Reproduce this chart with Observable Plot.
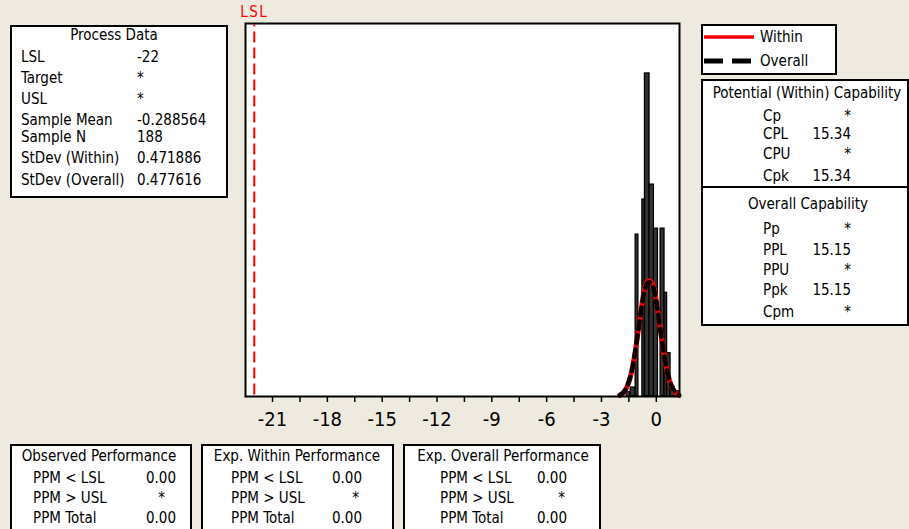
<!DOCTYPE html>
<html>
<head>
<meta charset="utf-8">
<script src="https://cdn.jsdelivr.net/npm/d3@7"></script>
<script src="https://cdn.jsdelivr.net/npm/@observablehq/plot@0.6"></script>
<style>
  html, body { margin: 0; padding: 0; background: #EEEAE0; }
  #page { position: relative; width: 909px; height: 529px; overflow: hidden; background: #EEEAE0;
          font-family: "DejaVu Sans Condensed", "DejaVu Sans", sans-serif; font-stretch: condensed; }
  #page svg { position: absolute; left: 0; top: 0; }
  .box { position: absolute; box-sizing: border-box; border: 2px solid #000; background: #fff; }
  .t { position: absolute; font-size: 15px; line-height: 18px; height: 18px; white-space: pre; color: #000; }
  .c { transform: translateX(-50%); }
  .r { transform: translateX(-100%); }
  .sep { position: absolute; height: 2px; background: #000; }
</style>
</head>
<body>
<div id="page"></div>
<script>
// ---------------- data ----------------
const lsl = -22;
const majorTicks = [-21, -18, -15, -12, -9, -6, -3, 0];
const minorTicks = [-19.5, -16.5, -13.5, -10.5, -7.5, -4.5, -1.5];

// histogram bins (start, end, count)
const binStart = [-1.62, -1.40, -1.13, -0.76, -0.62, -0.37, -0.13, 0.235, 0.45, 0.59, 0.78, 1.00];
const binEnd   = [-1.40, -1.13, -0.98, -0.62, -0.37, -0.13, 0.09, 0.45, 0.59, 0.78, 1.00, 1.22];
const binCount = [0.6, 1.2, 21.7, 26.4, 43.3, 28.4, 22.5, 22.5, 13.9, 5.8, 1.3, 0.7];

// fitted curves
const curveX       = [-2.0, -1.8, -1.6, -1.4, -1.2, -1.0, -0.8, -0.6, -0.37, -0.15, 0.05, 0.25, 0.45, 0.65, 0.85, 1.05, 1.25];
const withinCurveY = [0.15, 0.5, 1.3, 2.8, 5.3, 8.6, 12.1, 14.8, 15.5, 14.7, 12.0, 8.5, 5.3, 2.8, 1.3, 0.5, 0.15];
const overallCurveY= [0.17, 0.55, 1.35, 2.85, 5.3, 8.6, 12.0, 14.6, 15.3, 14.5, 11.9, 8.5, 5.3, 2.85, 1.35, 0.55, 0.17];

// tables
const processTitle  = "Process Data";
const processLabels = ["LSL", "Target", "USL", "Sample Mean", "Sample N", "StDev (Within)", "StDev (Overall)"];
const processValues = ["-22", "*", "*", "-0.288564", "188", "0.471886", "0.477616"];

const legendLabels = ["Within", "Overall"];

const withinTitle  = "Potential (Within) Capability";
const withinLabels = ["Cp", "CPL", "CPU", "Cpk"];
const withinValues = ["*", "15.34", "*", "15.34"];
const overallTitle  = "Overall Capability";
const overallLabels = ["Pp", "PPL", "PPU", "Ppk", "Cpm"];
const overallValues = ["*", "15.15", "*", "15.15", "*"];

const perfTitles = ["Observed Performance", "Exp. Within Performance", "Exp. Overall Performance"];
const ppmLabels  = ["PPM < LSL", "PPM > USL", "PPM Total"];
const observedValues = ["0.00", "*", "0.00"];
const expWithinValues = ["0.00", "*", "0.00"];
const expOverallValues = ["0.00", "*", "0.00"];

// ---------------- chart ----------------
const bins = binStart.map((s, i) => ({x1: s, x2: binEnd[i], count: binCount[i]}));
const within = curveX.map((x, i) => ({x, y: withinCurveY[i]}));
const overall = curveX.map((x, i) => ({x, y: overallCurveY[i]}));

const chart = Plot.plot({
  width: 909, height: 529,
  marginLeft: 245, marginRight: 230, marginTop: 23, marginBottom: 133,
  x: {domain: [-22.48, 1.27]},
  y: {domain: [0, 50], axis: null},
  style: {background: "transparent", fontFamily: '"DejaVu Sans Condensed", "DejaVu Sans", sans-serif', overflow: "visible"},
  marks: [
    Plot.frame({fill: "white", stroke: "none"}),
    Plot.rectY(bins, {x1: "x1", x2: "x2", y: "count", fill: "#333", stroke: "#000", strokeWidth: 1.3}),
    Plot.ruleX([lsl], {stroke: "#ff0000", strokeWidth: 2, strokeDasharray: "11,5", y1: 0.2, y2: 49.8}),
    Plot.line(within, {x: "x", y: "y", stroke: "#ff0000", strokeWidth: 5, curve: "natural"}),
    Plot.line(overall, {x: "x", y: "y", stroke: "#000", strokeWidth: 4.5, strokeDasharray: "8,6", curve: "natural"}),
    Plot.frame({stroke: "#000", strokeWidth: 2}),
    Plot.axisX(majorTicks, {tickSize: 6, tickPadding: 9, fontSize: 20, stroke: "#000", strokeWidth: 1.5, fill: "#000", label: null, tickFormat: d => String(d)}),
    Plot.axisX(minorTicks, {tickSize: 6, tickFormat: () => "", stroke: "#000", strokeWidth: 1.5, label: null}),
    Plot.text([lsl], {x: d => d, frameAnchor: "top", dy: -11, text: () => "LSL", fill: "#ff0000", fontSize: 15, lineAnchor: "middle"})
  ]
});
d3.select(chart).selectAll("text").filter(function() { return this.textContent === "LSL"; }).style("letter-spacing", "1.5px");
const page = document.getElementById("page");
page.appendChild(chart);

// ---------------- text boxes ----------------
function box(l, t, w, h) {
  const d = document.createElement("div");
  d.className = "box";
  Object.assign(d.style, {left: l + "px", top: t + "px", width: w + "px", height: h + "px"});
  page.appendChild(d);
}
function txt(s, x, yc, cls) {
  const d = document.createElement("div");
  d.className = "t" + (cls ? " " + cls : "");
  d.textContent = s;
  Object.assign(d.style, {left: x + "px", top: (yc - 9) + "px"});
  page.appendChild(d);
}
function sep(l, t, w) {
  const d = document.createElement("div");
  d.className = "sep";
  Object.assign(d.style, {left: l + "px", top: t + "px", width: w + "px"});
  page.appendChild(d);
}

// Process data
box(10, 25, 218, 173);
txt(processTitle, 114, 35, "c");
const procY = [57, 78, 99, 120, 137, 158, 180];
processLabels.forEach((s, i) => { txt(s, 21, procY[i]); txt(processValues[i], 137, procY[i]); });

// Legend
box(701, 24, 136, 51);
const lg = d3.select(page).append("svg").attr("width", 909).attr("height", 529).style("pointer-events", "none");
lg.append("line").attr("x1", 704).attr("x2", 754).attr("y1", 37).attr("y2", 37).attr("stroke", "#ff0000").attr("stroke-width", 3.5);
lg.append("line").attr("x1", 704).attr("x2", 752).attr("y1", 61).attr("y2", 61).attr("stroke", "#000").attr("stroke-width", 5).attr("stroke-dasharray", "19,9");
txt(legendLabels[0], 760, 37);
txt(legendLabels[1], 760, 61);

// Capability
box(701, 79, 208, 247);
sep(701, 186, 208);
txt(withinTitle, 807, 93, "c");
const wY = [116, 134, 154, 176];
withinLabels.forEach((s, i) => { txt(s, 763, wY[i]); txt(withinValues[i], 851, wY[i], "r"); });
txt(overallTitle, 808, 204, "c");
const oY = [229, 250, 270, 290, 312];
overallLabels.forEach((s, i) => { txt(s, 763, oY[i]); txt(overallValues[i], 851, oY[i], "r"); });

// Performance boxes
const perfBoxes = [
  {l: 10, w: 182, cx: 99, lx: 33, vx: 176, sx: 165, vals: observedValues},
  {l: 201, w: 193, cx: 297, lx: 231, vx: 362, sx: 359, vals: expWithinValues},
  {l: 403, w: 198, cx: 503, lx: 440, vx: 567, sx: 565, vals: expOverallValues}
];
const rowY = [478, 498, 518];
perfBoxes.forEach((b, k) => {
  box(b.l, 444, b.w, 120);
  txt(perfTitles[k], b.cx, 456, "c");
  ppmLabels.forEach((s, i) => {
    txt(s, b.lx, rowY[i]);
    const v = b.vals[i];
    txt(v, v === "*" ? b.sx : b.vx, rowY[i], "r");
  });
});
</script>
</body>
</html>
